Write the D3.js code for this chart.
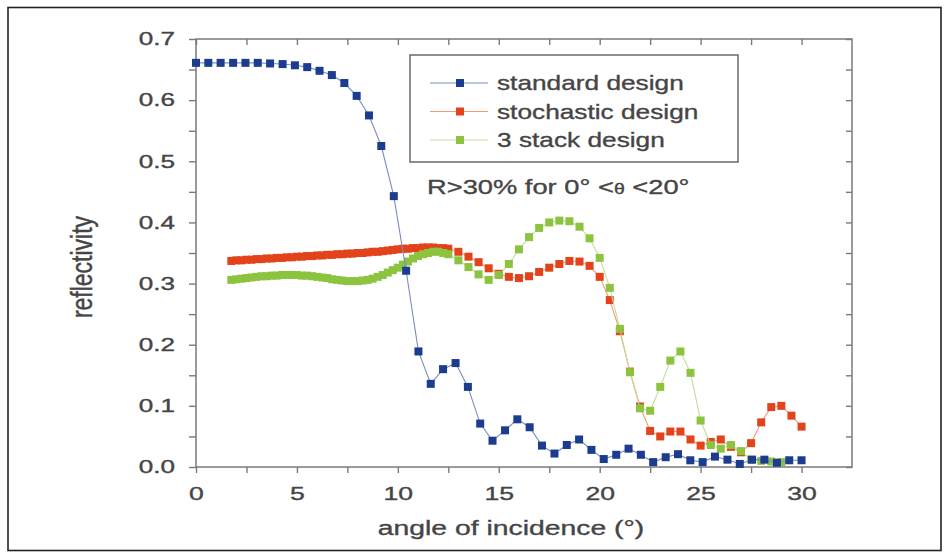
<!DOCTYPE html>
<html>
<head>
<meta charset="utf-8">
<script src="https://cdn.jsdelivr.net/npm/d3@7"></script>
<style>
  body { margin: 0; background: #fff; }
  svg { display: block; }
  text { font-family: "Liberation Sans", Arial, sans-serif; fill: #454545; stroke: #454545; stroke-width: 0.35px; }
</style>
</head>
<body>
<svg id="chart"></svg>
<script>
// standard design: 50 angles from 0 to 30 deg
const stdAngle = [0, 0.61, 1.22, 1.84, 2.45, 3.06, 3.67, 4.29, 4.90, 5.51,
  6.12, 6.73, 7.35, 7.96, 8.57, 9.18, 9.80, 10.41, 11.02, 11.63,
  12.24, 12.86, 13.47, 14.08, 14.69, 15.31, 15.92, 16.53, 17.14, 17.76,
  18.37, 18.98, 19.59, 20.20, 20.82, 21.43, 22.04, 22.65, 23.27, 23.88,
  24.49, 25.10, 25.71, 26.33, 26.94, 27.55, 28.16, 28.78, 29.39, 30.00];
const stdR = [0.661, 0.661, 0.661, 0.661, 0.661, 0.661, 0.660, 0.659, 0.657, 0.654,
  0.648, 0.641, 0.628, 0.607, 0.575, 0.525, 0.443, 0.321, 0.189, 0.136,
  0.160, 0.170, 0.131, 0.071, 0.043, 0.060, 0.078, 0.065, 0.035, 0.022,
  0.036, 0.045, 0.028, 0.013, 0.020, 0.030, 0.020, 0.008, 0.016, 0.021,
  0.011, 0.008, 0.017, 0.012, 0.005, 0.012, 0.012, 0.007, 0.011, 0.011];

// stochastic and 3 stack designs share one angle grid
const designAngle = [1.75, 2, 2.25, 2.5, 2.75, 3, 3.25, 3.5, 3.75, 4, 4.25, 4.5, 4.75,
  5, 5.25, 5.5, 5.75, 6, 6.25, 6.5, 6.75, 7, 7.25, 7.5, 7.75, 8, 8.25, 8.5, 8.75,
  9, 9.25, 9.5, 9.75, 10, 10.25, 10.5, 10.75, 11, 11.25, 11.5, 11.75, 12, 12.25,
  12.5, 13, 13.5, 14, 14.5, 15, 15.5, 16, 16.5, 17, 17.5, 18, 18.5, 19, 19.5, 20,
  20.5, 21, 21.5, 22, 22.5, 23, 23.5, 24, 24.5, 25, 25.5, 26, 26.5, 27, 27.5, 28,
  28.5, 29, 29.5, 30];
const stochR = [0.337, 0.338, 0.338, 0.339, 0.339, 0.340, 0.340, 0.341, 0.341,
  0.342, 0.342, 0.343, 0.343, 0.344, 0.344, 0.345, 0.345, 0.346, 0.346, 0.347, 0.347,
  0.348, 0.348, 0.349, 0.349, 0.350, 0.350, 0.351, 0.352, 0.352, 0.353, 0.354, 0.355,
  0.356, 0.357, 0.357, 0.358, 0.358, 0.359, 0.359, 0.359, 0.358, 0.358,
  0.357, 0.352, 0.344, 0.335, 0.325, 0.316, 0.311, 0.309, 0.312, 0.319, 0.326, 0.332,
  0.337, 0.336, 0.329, 0.311, 0.273, 0.222, 0.156, 0.099, 0.059, 0.050, 0.058, 0.058,
  0.045, 0.035, 0.041, 0.045, 0.033, 0.024, 0.039, 0.073, 0.098, 0.100, 0.084, 0.066];
const stackR = [0.306, 0.307, 0.308, 0.309, 0.310, 0.311, 0.312, 0.312, 0.313,
  0.313, 0.314, 0.314, 0.314, 0.314, 0.313, 0.313, 0.312, 0.311, 0.310, 0.309, 0.307,
  0.306, 0.305, 0.304, 0.304, 0.304, 0.305, 0.306, 0.308, 0.311, 0.314, 0.318, 0.322,
  0.326, 0.331, 0.336, 0.341, 0.345, 0.348, 0.350, 0.352, 0.352, 0.350,
  0.348, 0.338, 0.327, 0.315, 0.306, 0.314, 0.332, 0.356, 0.376, 0.391, 0.400, 0.403,
  0.402, 0.393, 0.374, 0.342, 0.293, 0.226, 0.155, 0.096, 0.092, 0.131, 0.174, 0.189,
  0.154, 0.076, 0.036, 0.030, 0.036, 0.026, 0.012, 0.010, 0.009, 0.008];

const seriesNames = ["standard design", "stochastic design", "3 stack design"];
const markColor = ["#1b3c8f", "#e2431b", "#8dc43f"];
const lineColor = ["#7d8cc0", "#ee9d7c", "#c2dd9c"];

const xTicks = [0, 2.5, 5, 7.5, 10, 12.5, 15, 17.5, 20, 22.5, 25, 27.5, 30];
const yTicks = [0, 0.05, 0.1, 0.15, 0.2, 0.25, 0.3, 0.35, 0.4, 0.45, 0.5, 0.55, 0.6, 0.65, 0.7];

const width = 951, height = 558;
const svg = d3.select("#chart").attr("width", width).attr("height", height);

// outer figure frame
svg.append("rect")
  .attr("x", 8).attr("y", 7.5).attr("width", 933).attr("height", 543)
  .attr("fill", "none").attr("stroke", "#222").attr("stroke-width", 1.6);

const x = d3.scaleLinear().domain([0, 32.5]).range([196, 852]);
const y = d3.scaleLinear().domain([0, 0.7]).range([467, 39]);
const axisColor = "#7a7a7a";

function styleAxis(g) {
  g.select(".domain").remove();
  g.selectAll("line").attr("stroke", axisColor).attr("stroke-width", 1.4);
  g.selectAll("text").attr("fill", "#454545");
}

svg.append("g")
  .attr("transform", `translate(0,${y(0)})`)
  .call(d3.axisBottom(x).tickValues(xTicks).tickSize(6).tickPadding(14)
    .tickFormat(d => d % 5 === 0 ? d : ""))
  .call(styleAxis)
  .call(g => g.selectAll("text")
    .style("font-size", "19px")
    .attr("transform", "scale(1.4,1)"));

svg.append("g")
  .attr("transform", `translate(0,${y(0.7)})`)
  .call(d3.axisTop(x).tickValues(xTicks).tickSize(-6).tickFormat(""))
  .call(styleAxis);

svg.append("g")
  .attr("transform", `translate(${x(0)},0)`)
  .call(d3.axisLeft(y).tickValues(yTicks).tickSize(7).tickPadding(14)
    .tickFormat(d => Math.round(d * 100) % 10 === 0 ? d3.format(".1f")(d) : ""))
  .call(styleAxis)
  .call(g => g.selectAll("text")
    .style("font-size", "18px")
    .attr("x", -21 / 1.45)
    .attr("transform", "scale(1.45,1)"));

svg.append("g")
  .attr("transform", `translate(${x(32.5)},0)`)
  .call(d3.axisRight(y).tickValues(yTicks).tickSize(-6).tickFormat(""))
  .call(styleAxis);

// plot frame
svg.append("rect")
  .attr("x", x(0)).attr("y", y(0.7))
  .attr("width", x(32.5) - x(0)).attr("height", y(0) - y(0.7))
  .attr("fill", "none").attr("stroke", axisColor).attr("stroke-width", 1.5);

const series = [
  { angle: designAngle, r: stochR, k: 1 },
  { angle: designAngle.slice(0, stackR.length), r: stackR, k: 2 },
  { angle: stdAngle, r: stdR, k: 0 }
];

const line = d3.line().x(d => x(d[0])).y(d => y(d[1]));
const sq = 8;

series.forEach(s => {
  const pts = s.angle.map((a, i) => [a, s.r[i]]);
  svg.append("path")
    .datum(pts)
    .attr("d", line)
    .attr("fill", "none")
    .attr("stroke", lineColor[s.k])
    .attr("stroke-width", 1.1);
  svg.append("g").selectAll("rect")
    .data(pts)
    .join("rect")
    .attr("x", d => x(d[0]) - sq / 2)
    .attr("y", d => y(d[1]) - sq / 2)
    .attr("width", sq).attr("height", sq)
    .attr("fill", markColor[s.k]);
});

// legend
const legend = svg.append("g");
legend.append("rect")
  .attr("x", 410).attr("y", 55).attr("width", 328).attr("height", 107)
  .attr("fill", "#fff").attr("stroke", "#6a6a6a").attr("stroke-width", 1.5);

seriesNames.forEach((name, i) => {
  const cy = 83 + i * 28.5;
  legend.append("line")
    .attr("x1", 430).attr("x2", 488).attr("y1", cy).attr("y2", cy)
    .attr("stroke", lineColor[i]).attr("stroke-width", 1.1);
  legend.append("rect")
    .attr("x", 460 - sq / 2).attr("y", cy - sq / 2)
    .attr("width", sq).attr("height", sq)
    .attr("fill", markColor[i]);
  legend.append("text")
    .attr("transform", `translate(497,${cy + 7}) scale(1.25,1)`)
    .style("font-size", "21px")
    .text(name);
});

// annotation
const note = svg.append("text")
  .attr("transform", "translate(427,194) scale(1.3,1)")
  .style("font-size", "21px");
note.append("tspan").text("R>30% for 0° <");
note.append("tspan").style("font-size", "15px").text("θ");
note.append("tspan").text(" <20°");

// axis titles
svg.append("text")
  .attr("transform", "translate(511,535) scale(1.35,1)")
  .attr("text-anchor", "middle")
  .style("font-size", "21px")
  .text("angle of incidence (°)");

svg.append("text")
  .attr("transform", "translate(92,267) rotate(-90) scale(1,1.3)")
  .attr("text-anchor", "middle")
  .style("font-size", "23px")
  .text("reflectivity");
</script>
</body>
</html>
